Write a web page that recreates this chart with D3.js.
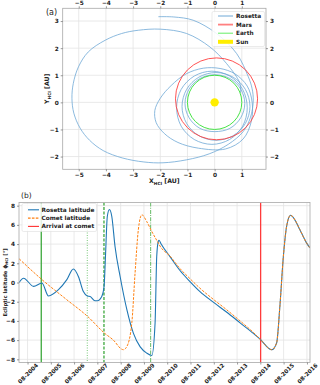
<!DOCTYPE html>
<html>
<head>
<meta charset="utf-8">
<script src="https://cdn.jsdelivr.net/npm/d3@7"></script>
<style>
body{margin:0;background:#fff}
svg{display:block;font-family:"DejaVu Sans",sans-serif}
</style>
</head>
<body>
<svg id="chart" width="320" height="385"></svg>
<script>
// ---- panel (a): orbits, HCI coordinates in AU ----
const xTicksA = [-5, -4, -3, -2, -1, 0, 1]
const yTicksA = [-2, -1, 0, 1, 2, 3]

const planetNames = ['Mars', 'Earth']
const planetCx = [0.07, 0.0]
const planetCy = [0.13, 0.0]
const planetR = [1.51, 1.0]

// Rosetta loops
const rosettaLoop1 = [[1.11,-0.04],[0.96,0.49],[0.56,0.88],[0.01,1.02],[-0.54,0.88],[-0.94,0.49],
  [-1.09,-0.04],[-0.94,-0.57],[-0.54,-0.96],[0.01,-1.08],[0.56,-0.96],[0.96,-0.57]]
const rosettaLoop2 = [[1.2,-0.2],[1.03,0.48],[0.55,0.97],[-0.1,1.15],[-0.75,0.97],[-1.23,0.48],
  [-1.4,-0.2],[-1.23,-0.88],[-0.75,-1.37],[-0.1,-1.55],[0.55,-1.37],[1.03,-0.88]]
const rosettaLoop3 = [[1.3,-0.15],[1.13,0.48],[0.68,0.93],[0.05,1.1],[-0.58,0.93],[-1.03,0.48],
  [-1.2,-0.15],[-1.03,-0.78],[-0.58,-1.23],[0.05,-1.4],[0.68,-1.23],[1.13,-0.78]]
const rosettaSteins = [[0.2,1.25],[-0.42,1.26],[-1.05,1.05],[-1.6,0.62],[-2.0,0.15],[-2.2,-0.3],
  [-2.15,-0.75],[-1.85,-1.15],[-1.35,-1.48],[-0.6,-1.69],[0.4,-1.72],[1.05,-1.35],[1.35,-0.7],
  [1.38,0.0],[1.2,0.6],[0.75,1.05]]
const rosettaOuter = [[0.95,0.35],[0.93,0.70],[0.44,1.43],[-0.17,2.04],[-1.03,2.54],[-2.0,2.70],
  [-2.81,2.66],[-3.42,2.54],[-4.03,2.29],[-4.65,1.86],[-5.01,1.31],[-5.2,0.7],[-5.25,0.15],
  [-5.18,-0.4],[-4.95,-0.95],[-4.6,-1.4],[-4.1,-1.78],[-3.4,-2.05],[-2.6,-2.2],[-1.9,-2.23],
  [-1.03,-2.12],[-0.2,-1.9],[0.5,-1.55],[1.05,-1.08],[1.32,-0.55],[1.42,0.05],[1.38,0.5],[1.24,0.94],
  [0.81,1.80],[0.07,2.54],[-0.79,3.03],[-1.5,3.15],[-2.07,3.16]]

// ---- panel (b): ecliptic latitude vs time (decimal years) ----
const rosettaYears = [2004.22,2004.41,2004.84,2005.20,2005.48,2005.91,2006.27,2006.55,2006.77,2006.98,
  2007.15,2007.27,2007.48,2007.58,2007.77,2007.87,2007.93,2008.01,2008.10,2008.20,2008.34,2008.56,
  2008.85,2009.13,2009.42,2009.70,2009.92,2010.06,2010.13,2010.20,2010.23,2010.32,2010.70,2011.13,
  2011.56,2011.99,2012.56,2013.14,2013.71,2014.28,2014.57,2015.07,2015.28,2015.42,2015.57,2015.71,
  2015.88,2016.07,2016.28,2016.57,2016.71]
const rosettaLat = [0.0,0.45,-0.4,-0.05,-1.4,-0.75,0.3,1.4,0.6,-0.95,
  -1.4,-1.45,-1.9,-1.9,-1.45,-0.4,2.7,6.9,7.6,6.9,3.75,0.6,
  -2.85,-5.3,-6.7,-7.35,-7.6,-4.2,2.7,4.3,4.4,4.0,2.7,1.25,
  0.1,-0.95,-2.05,-3.1,-4.2,-5.3,-5.9,-7.0,-6.3,-2.5,2.7,5.85,
  7.0,6.5,5.5,4.1,3.6]

const cometYears = [2004.22,2005.20,2006.27,2007.17,2007.90,2008.27,2008.63,2008.70,2008.85,2009.06,
  2009.20,2009.34,2009.49,2009.70,2009.92,2010.20,2010.27,2010.70,2011.13,2011.56,2011.99,2012.56,
  2013.14,2013.71,2014.28,2014.57,2015.07,2015.28,2015.42,2015.57,2015.71,2015.88,2016.07,2016.28,
  2016.57,2016.71]
const cometLat = [2.47,0.3,-1.8,-3.55,-5.3,-6.0,-6.95,-7.0,-6.65,-4.2,
  1.0,5.5,7.05,6.35,5.3,4.1,3.8,2.75,1.45,0.4,-0.6,-1.75,
  -2.85,-4.0,-5.2,-5.9,-7.0,-6.3,-2.5,2.7,5.85,7.0,6.5,5.5,
  4.1,3.6]

const eventDates = ['2005-03-04', '2007-02-25', '2007-11-13', '2009-11-13', '2014-08-06']
const eventColors = ['#2ca02c', '#8fd18f', '#2ca02c', '#7cc47c', '#ff3030']
const eventDash = [null, '1,1.5', '3,1.5', '4,1.2,1,1.2', null]

const yTicksB = [-8, -6, -4, -2, 0, 2, 4, 6, 8]
const xTickYears = d3.range(2004, 2017)

function decYear(v) {
  const yr = Math.floor(v)
  const start = new Date(yr, 0, 1), end = new Date(yr + 1, 0, 1)
  return new Date(+start + (v - yr) * (end - start))
}

const svg = d3.select('#chart')
const gridColor = '#e3e3e3'
const frameColor = '#a8a8a8'
const tickFont = 5.8

// ================= panel (a) =================
const A = {left: 62.7, right: 266, top: 8.3, bottom: 169.3}
const xa = d3.scaleLinear().domain([-5.59, 1.89]).range([A.left, A.right])
const ya = d3.scaleLinear().domain([-2.47, 3.47]).range([A.bottom, A.top])

const ga = svg.append('g')

ga.selectAll('.gx').data(xTicksA).enter().append('line')
  .attr('x1', d => xa(d)).attr('x2', d => xa(d))
  .attr('y1', A.top).attr('y2', A.bottom)
  .attr('stroke', gridColor).attr('stroke-width', 0.8)
ga.selectAll('.gy').data(yTicksA).enter().append('line')
  .attr('y1', d => ya(d)).attr('y2', d => ya(d))
  .attr('x1', A.left).attr('x2', A.right)
  .attr('stroke', gridColor).attr('stroke-width', 0.8)

svg.append('clipPath').attr('id', 'clipA').append('rect')
  .attr('x', A.left).attr('y', A.top)
  .attr('width', A.right - A.left).attr('height', A.bottom - A.top)

const orbits = ga.append('g').attr('clip-path', 'url(#clipA)')

const lineA = d3.line().x(d => xa(d[0])).y(d => ya(d[1]))
const rosettaColor = '#6fa8d6'

;[rosettaLoop1, rosettaLoop2, rosettaLoop3, rosettaSteins].forEach(function(loop){
  orbits.append('path')
    .attr('d', lineA.curve(d3.curveCatmullRomClosed)(loop))
    .attr('fill', 'none').attr('stroke', rosettaColor).attr('stroke-width', 0.8)
})
orbits.append('path')
  .attr('d', lineA.curve(d3.curveCatmullRom)(rosettaOuter))
  .attr('fill', 'none').attr('stroke', rosettaColor).attr('stroke-width', 0.8)

const planetColors = ['#ff4040', '#33e033']
planetNames.forEach(function(p, i){
  orbits.append('ellipse')
    .attr('cx', xa(planetCx[i])).attr('cy', ya(planetCy[i]))
    .attr('rx', xa(planetR[i]) - xa(0)).attr('ry', ya(0) - ya(planetR[i]))
    .attr('fill', 'none').attr('stroke', planetColors[i]).attr('stroke-width', 0.9)
})

orbits.append('circle')
  .attr('cx', xa(0)).attr('cy', ya(0)).attr('r', 4.2)
  .attr('fill', '#ffee00')

ga.append('rect')
  .attr('x', A.left).attr('y', A.top)
  .attr('width', A.right - A.left).attr('height', A.bottom - A.top)
  .attr('fill', 'none').attr('stroke', frameColor).attr('stroke-width', 0.8)

function styleAxis(g) {
  g.select('.domain').remove()
  g.selectAll('.tick line').attr('stroke', '#555').attr('stroke-width', 0.6)
  g.selectAll('.tick text').attr('font-size', tickFont).attr('font-weight', 'bold')
    .attr('font-family', 'DejaVu Sans').attr('fill', '#222')
}

ga.append('g').attr('transform', `translate(0,${A.bottom})`)
  .call(d3.axisBottom(xa).tickValues(xTicksA).tickSize(2).tickPadding(2).tickFormat(d3.format('d')))
  .call(styleAxis)
ga.append('g').attr('transform', `translate(0,${A.top})`)
  .call(d3.axisTop(xa).tickValues(xTicksA).tickSize(2).tickPadding(1.5).tickFormat(d3.format('d')))
  .call(styleAxis)
ga.append('g').attr('transform', `translate(${A.left},0)`)
  .call(d3.axisLeft(ya).tickValues(yTicksA).tickSize(2).tickPadding(2).tickFormat(d3.format('d')))
  .call(styleAxis)
ga.append('g').attr('transform', `translate(${A.right},0)`)
  .call(d3.axisRight(ya).tickValues(yTicksA).tickSize(2).tickPadding(2).tickFormat(d3.format('d')))
  .call(styleAxis)

ga.append('text').attr('x', 46).attr('y', 15).attr('font-size', 8).attr('fill', '#222').text('(a)')

const xlabA = ga.append('text').attr('x', (A.left + A.right) / 2).attr('y', 183)
  .attr('text-anchor', 'middle').attr('font-size', 6.2).attr('font-weight', 'bold').attr('fill', '#222')
xlabA.append('tspan').text('X')
xlabA.append('tspan').attr('font-size', 4.3).attr('dy', 1.5).text('HCI')
xlabA.append('tspan').attr('dy', -1.5).text(' [AU]')

const ylabA = ga.append('text')
  .attr('transform', `translate(49,${(A.top + A.bottom) / 2}) rotate(-90)`)
  .attr('text-anchor', 'middle').attr('font-size', 6.2).attr('font-weight', 'bold').attr('fill', '#222')
ylabA.append('tspan').text('Y')
ylabA.append('tspan').attr('font-size', 4.3).attr('dy', 1.5).text('HCI')
ylabA.append('tspan').attr('dy', -1.5).text(' [AU]')

// legend (a)
const legA = ga.append('g').attr('transform', 'translate(212,11.5)')
legA.append('rect').attr('width', 52.5).attr('height', 35).attr('rx', 1.5)
  .attr('fill', '#fff').attr('fill-opacity', 0.85).attr('stroke', '#ddd').attr('stroke-width', 0.6)
const legAItems = [
  {name: 'Rosetta', color: rosettaColor, w: 1},
  {name: 'Mars', color: '#ff8080', w: 1.8},
  {name: 'Earth', color: '#66ee66', w: 1},
  {name: 'Sun', color: '#ffee00', w: 4}
]
legAItems.forEach(function(it, i){
  const yy = 4.5 + i * 8.6
  legA.append('line').attr('x1', 6).attr('x2', 21).attr('y1', yy).attr('y2', yy)
    .attr('stroke', it.color).attr('stroke-width', it.w)
  legA.append('text').attr('x', 24).attr('y', yy + 2.1).attr('font-size', 5.8)
    .attr('font-weight', 'bold').attr('fill', '#222').text(it.name)
})

// ================= panel (b) =================
const B = {left: 19, right: 310, top: 202.5, bottom: 362.5}
const xb = d3.scaleTime().domain([new Date(2004, 2, 20), new Date(2016, 8, 18)]).range([B.left, B.right])
const yb = d3.scaleLinear().domain([-8.33, 8.33]).range([B.bottom, B.top])
const xTickDates = xTickYears.map(yr => new Date(yr, 7, 1))

const gb = svg.append('g')
gb.selectAll('.gx').data(xTickDates).enter().append('line')
  .attr('x1', d => xb(d)).attr('x2', d => xb(d))
  .attr('y1', B.top).attr('y2', B.bottom)
  .attr('stroke', gridColor).attr('stroke-width', 0.8)
gb.selectAll('.gy').data(yTicksB).enter().append('line')
  .attr('y1', d => yb(d)).attr('y2', d => yb(d))
  .attr('x1', B.left).attr('x2', B.right)
  .attr('stroke', gridColor).attr('stroke-width', 0.8)

svg.append('clipPath').attr('id', 'clipB').append('rect')
  .attr('x', B.left).attr('y', B.top)
  .attr('width', B.right - B.left).attr('height', B.bottom - B.top)
const plotB = gb.append('g').attr('clip-path', 'url(#clipB)')

eventDates.forEach(function(d, i){
  const xx = xb(d3.timeParse('%Y-%m-%d')(d))
  plotB.append('line').attr('x1', xx).attr('x2', xx).attr('y1', B.top).attr('y2', B.bottom)
    .attr('stroke', eventColors[i]).attr('stroke-width', 1.2)
    .attr('stroke-dasharray', eventDash[i])
})

const rosettaSeries = rosettaYears.map((v, i) => ({date: decYear(v), value: rosettaLat[i]}))
const cometSeries = cometYears.map((v, i) => ({date: decYear(v), value: cometLat[i]}))

const lineB = d3.line().x(d => xb(d.date)).y(d => yb(d.value)).curve(d3.curveMonotoneX)

plotB.append('path').datum(rosettaSeries).attr('d', lineB)
  .attr('fill', 'none').attr('stroke', '#1f77b4').attr('stroke-width', 1.1)
plotB.append('path').datum(cometSeries).attr('d', lineB)
  .attr('fill', 'none').attr('stroke', '#ff7f0e').attr('stroke-width', 1)
  .attr('stroke-dasharray', '2.6,1.3')

gb.append('rect')
  .attr('x', B.left).attr('y', B.top)
  .attr('width', B.right - B.left).attr('height', B.bottom - B.top)
  .attr('fill', 'none').attr('stroke', frameColor).attr('stroke-width', 0.8)

gb.append('g').attr('transform', `translate(${B.left},0)`)
  .call(d3.axisLeft(yb).tickValues(yTicksB).tickSize(2).tickPadding(2).tickFormat(d3.format('d')))
  .call(styleAxis)

const xAxisB = gb.append('g').attr('transform', `translate(0,${B.bottom})`)
  .call(d3.axisBottom(xb).tickValues(xTickDates).tickSize(2).tickFormat(d3.timeFormat('%m-%Y')))
  .call(styleAxis)
xAxisB.selectAll('.tick text')
  .attr('y', 0).attr('dy', 0)
  .attr('text-anchor', 'middle').attr('dominant-baseline', 'central')
  .attr('transform', 'translate(0,11) rotate(-45)')
  .attr('font-size', 5.6)

gb.append('text').attr('x', 21).attr('y', 198).attr('font-size', 7.5).attr('fill', '#222').text('(b)')

const ylabB = gb.append('text')
  .attr('transform', `translate(6.5,${(B.top + B.bottom) / 2}) rotate(-90)`)
  .attr('text-anchor', 'middle').attr('font-size', 5.2).attr('font-weight', 'bold').attr('fill', '#222')
ylabB.append('tspan').text('Ecliptic latitude ϕ')
ylabB.append('tspan').attr('font-size', 3.7).attr('dy', 1.2).text('HCI')
ylabB.append('tspan').attr('dy', -1.2).text(' [°]')

// legend (b)
const legB = gb.append('g').attr('transform', 'translate(22,203.5)')
legB.append('rect').attr('width', 74.5).attr('height', 28).attr('rx', 1.5)
  .attr('fill', '#fff').attr('fill-opacity', 0.85).attr('stroke', '#ddd').attr('stroke-width', 0.6)
const legBItems = [
  {name: 'Rosetta latitude', color: '#1f77b4', dash: null},
  {name: 'Comet latitude', color: '#ff7f0e', dash: '2.6,1.3'},
  {name: 'Arrival at comet', color: '#ff3030', dash: null}
]
legBItems.forEach(function(it, i){
  const yy = 6.3 + i * 8.3
  legB.append('line').attr('x1', 6).attr('x2', 17).attr('y1', yy).attr('y2', yy)
    .attr('stroke', it.color).attr('stroke-width', 1.1).attr('stroke-dasharray', it.dash)
  legB.append('text').attr('x', 19.5).attr('y', yy + 2).attr('font-size', 5.8)
    .attr('font-weight', 'bold').attr('fill', '#222').text(it.name)
})
</script>
</body>
</html>
